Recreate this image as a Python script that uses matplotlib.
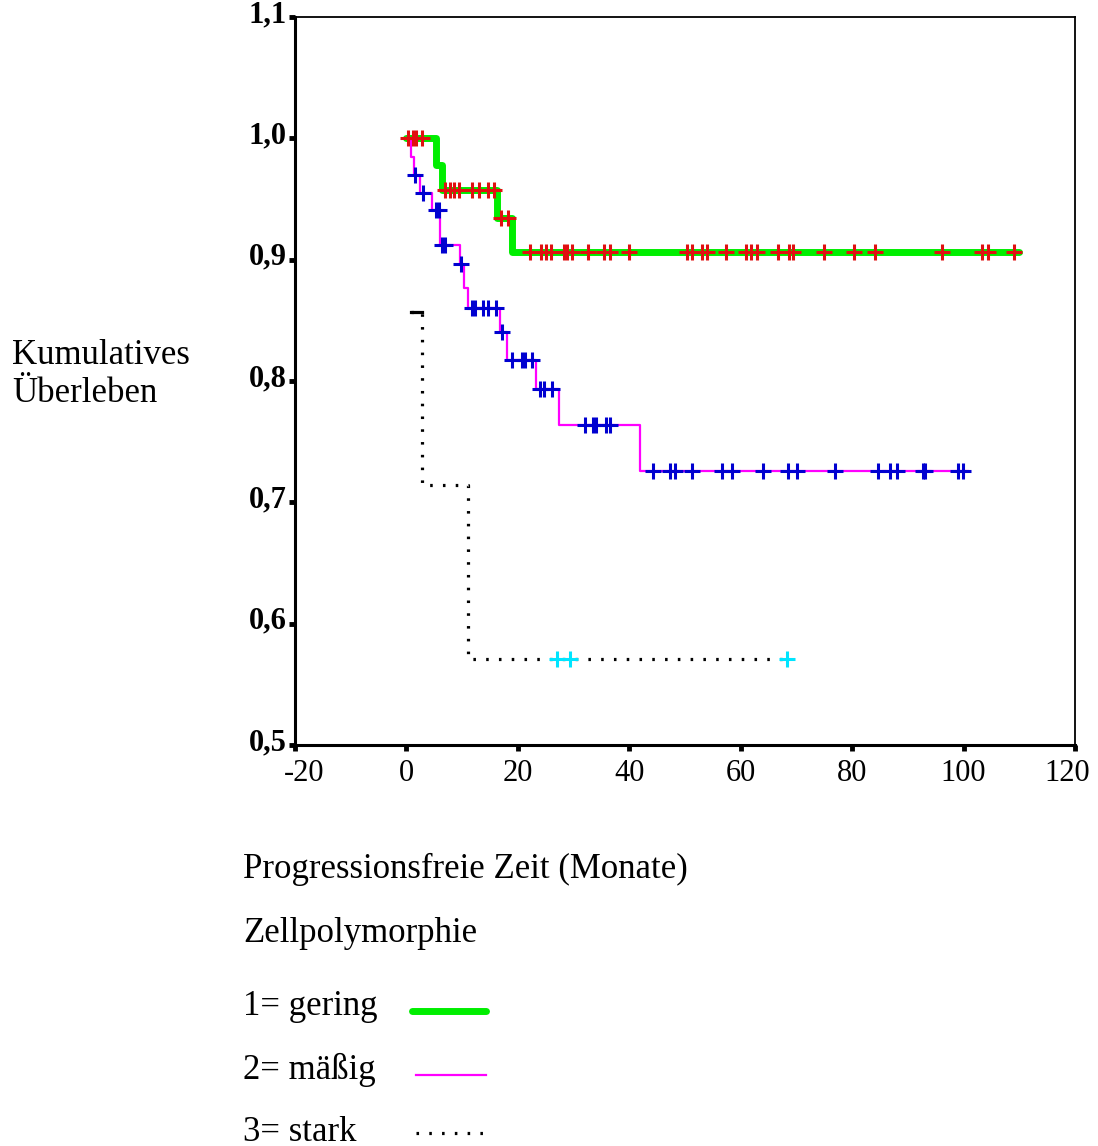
import matplotlib.pyplot as plt
from matplotlib.lines import Line2D
from matplotlib.transforms import ScaledTranslation

# Kaplan-Meier steps: time where a level starts, survival level from there on
g1_times = [0, 5.3, 6.4, 16.2, 19.0, 110]
g1_surv = [1.0, 0.978, 0.957, 0.934, 0.906, 0.906]
g1_cens_t = [0.3, 1.2, 1.8, 2.8,
             7.0, 7.8, 8.6, 9.5, 11.7, 13.1, 14.6, 15.8,
             17.0, 18.3,
             22.2, 24.2, 25.1, 26.0, 28.2, 28.9, 29.7, 32.5, 35.5, 36.6, 40.0,
             50.3, 51.3, 53.0, 54.0, 57.4, 60.9, 61.9, 62.9, 66.7, 68.7, 69.4,
             74.9, 80.4, 84.1, 96.1, 103.3, 104.3, 109.1]
g1_cens_s = [1.0] * 4 + [0.957] * 8 + [0.934] * 2 + [0.906] * 29

g2_times = [0, 0.8, 1.3, 2.5, 4.5, 6.0, 9.6, 10.3, 11.0, 16.8, 18.0, 23.3, 27.3, 41.9, 100.8]
g2_surv = [1.0, 0.985, 0.970, 0.955, 0.941, 0.912, 0.896, 0.877, 0.860,
           0.840, 0.817, 0.793, 0.764, 0.726, 0.726]
g2_cens_t = [1.5, 3.0, 5.3, 5.8, 6.3, 7.0, 9.8,
             11.8, 12.3, 13.7, 14.6, 16.1, 17.1,
             18.9, 20.8, 21.3, 22.6, 23.9, 24.6, 26.2,
             32.0, 33.4, 34.0, 35.8, 36.5,
             44.2, 47.3, 48.2, 51.2, 56.6, 58.4, 64.0, 68.5, 70.1, 76.9,
             84.7, 86.8, 88.1, 92.7, 93.1, 99.0, 99.9]
g2_cens_s = ([0.970, 0.955, 0.941, 0.941, 0.912, 0.912, 0.896]
             + [0.860] * 5 + [0.840] + [0.817] * 4 + [0.793] * 3
             + [0.764] * 5 + [0.726] * 17)

g3_times = [0.8, 2.8, 11.0, 68.3]
g3_surv = [0.857, 0.714, 0.571, 0.571]
g3_cens_t = [27.0, 29.3, 68.3]
g3_cens_s = [0.571] * 3

x_ticks = [-20, 0, 20, 40, 60, 80, 100, 120]
y_ticks = [0.5, 0.6, 0.7, 0.8, 0.9, 1.0, 1.1]
y_ticklabels = ['0,5', '0,6', '0,7', '0,8', '0,9', '1,0', '1,1']

serif = 'Liberation Serif'
plt.rcParams['font.family'] = serif

fig = plt.figure(figsize=(10.98, 11.46), dpi=100)
ax = fig.add_axes([0.2687, 0.3499, 0.7104, 0.6353])

dotted = (0, (0.8, 3.2))
ax.step(g1_times, g1_surv, where='post', color='#00ee00', lw=5, solid_capstyle='round', zorder=2)
ax.step(g2_times, g2_surv, where='post', color='#ff00ff', lw=1.6, zorder=3)
ax.step(g3_times, g3_surv, where='post', color='black', lw=2.3, linestyle=dotted, zorder=3)
# first level of the third group shows as a short solid stroke
ax.plot(g3_times[:2], [g3_surv[0]] * 2, color='black', lw=2.3, zorder=3)

ax.plot(g1_cens_t, g1_cens_s, linestyle='none', marker='+', ms=12, mew=2.2, color='#e01010', zorder=4)
ax.plot(g2_cens_t, g2_cens_s, linestyle='none', marker='+', ms=12, mew=2.2, color='#0000d0', zorder=4)
ax.plot(g3_cens_t, g3_cens_s, linestyle='none', marker='+', ms=12, mew=2.2, color='#00e5ff', zorder=4)

ax.set_xlim(-20, 120)
ax.set_ylim(0.5, 1.1)
ax.set_xticks(x_ticks)
ax.set_xticklabels([str(t) for t in x_ticks], fontsize=22)
ax.set_yticks(y_ticks)
ax.set_yticklabels(y_ticklabels, fontsize=22, fontweight='bold')
ax.tick_params(axis='both', direction='out', length=4, width=3.5, color='black')
ax.tick_params(axis='x', pad=6)
ax.tick_params(axis='y', pad=2)

# y labels sit a little above their ticks, outer x labels pulled inwards
up = ScaledTranslation(0, 6 / 100, fig.dpi_scale_trans)
for lab in ax.get_yticklabels():
    lab.set_transform(lab.get_transform() + up)
xl = ax.get_xticklabels()
xl[0].set_transform(xl[0].get_transform() + ScaledTranslation(9 / 100, 0, fig.dpi_scale_trans))
xl[-1].set_transform(xl[-1].get_transform() + ScaledTranslation(-8 / 100, 0, fig.dpi_scale_trans))

for side in ['left', 'bottom']:
    ax.spines[side].set_linewidth(2.2)
for side in ['top', 'right']:
    ax.spines[side].set_linewidth(1.3)

fig.text(12 / 1098, 1 - 402 / 1146, 'Kumulatives\nÜberleben', fontsize=25,
         ha='left', va='baseline', linespacing=1.2)

# legend block below the axes
lx = 243 / 1098
fig.text(lx, 1 - 878 / 1146, 'Progressionsfreie Zeit (Monate)', fontsize=25, va='baseline')
fig.text(lx, 1 - 942 / 1146, 'Zellpolymorphie', fontsize=25, va='baseline')
fig.text(lx, 1 - 1015 / 1146, '1= gering', fontsize=25, va='baseline')
fig.text(lx, 1 - 1079 / 1146, '2= mäßig', fontsize=25, va='baseline')
fig.text(lx, 1 - 1141 / 1146, '3= stark', fontsize=25, va='baseline')

fig.add_artist(Line2D([412 / 1098, 486 / 1098], [1 - 1011 / 1146] * 2, color='#00ee00',
                      lw=5, solid_capstyle='round', transform=fig.transFigure))
fig.add_artist(Line2D([416 / 1098, 486 / 1098], [1 - 1075 / 1146] * 2, color='#ff00ff',
                      lw=1.6, transform=fig.transFigure))
fig.add_artist(Line2D([416 / 1098, 486 / 1098], [1 - 1133 / 1146] * 2, color='black',
                      lw=2.3, linestyle=dotted, transform=fig.transFigure))

fig.savefig('out.png', dpi=100)
